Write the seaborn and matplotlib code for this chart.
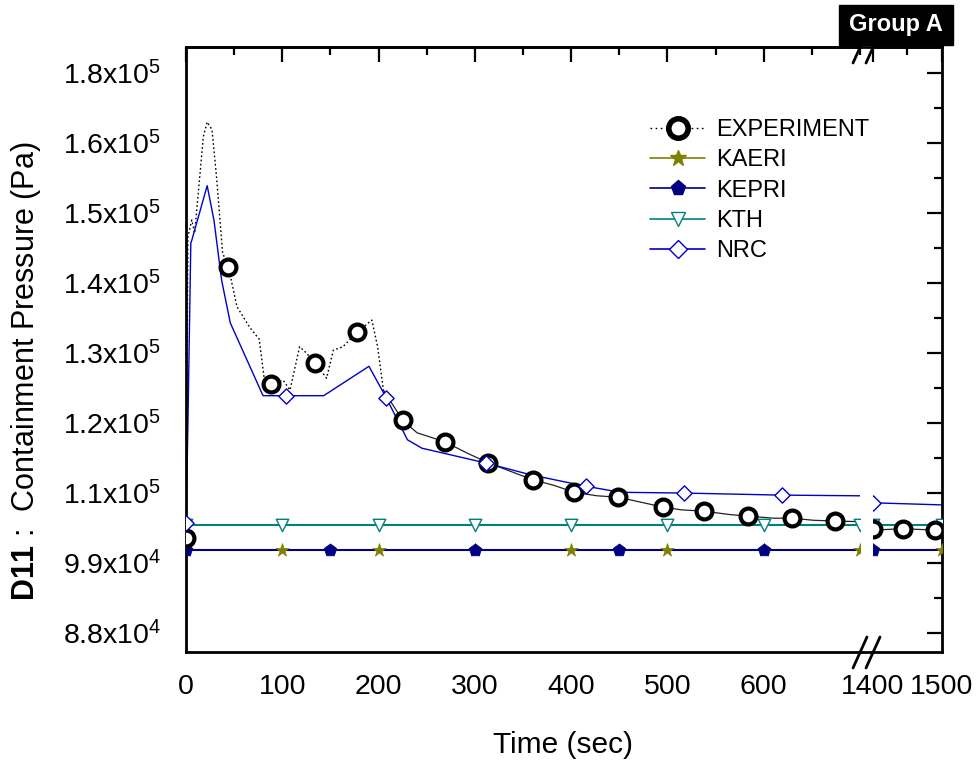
import matplotlib
matplotlib.use("Agg")
import matplotlib.pyplot as plt
import seaborn as sns
from matplotlib.lines import Line2D
from matplotlib.patches import Rectangle
from matplotlib.ticker import MultipleLocator, FixedLocator

# ---- data ----
exp_time = [0, 1, 2, 6, 9, 18, 22, 27, 32, 38, 44, 53, 66, 74, 76, 81, 88, 101, 108,
            118, 125, 134, 146, 153, 163, 178, 193, 199, 205, 225, 240, 269, 292, 314,
            360, 382, 403, 427, 449, 472, 495, 514, 538, 566, 584, 610, 629, 652, 674,
            700, 1400, 1443, 1490, 1500]
exp_pres = [103600, 125000, 146600, 149000, 147100, 160900, 163000, 161900, 154700,
            144300, 142300, 136600, 133700, 132300, 132000, 126600, 125600, 126100,
            124700, 130900, 130000, 128600, 126400, 130400, 130900, 133000, 134700,
            130900, 124700, 120400, 118600, 117300, 115700, 114300, 111900, 111100,
            110100, 109600, 109400, 108700, 108000, 107600, 107400, 106900, 106700,
            106400, 106400, 106100, 106000, 105900, 104700, 104900, 104700, 104900]
exp_mark_time = [0, 44, 88, 134, 178, 225, 269, 314, 360, 403, 449, 495, 538, 584,
                 629, 674, 1400, 1443, 1490]
exp_mark_pres = [103600, 142300, 125600, 128600, 133000, 120400, 117300, 114300,
                 111900, 110100, 109400, 108000, 107400, 106700, 106400, 106000,
                 104800, 104900, 104700]

nrc_time = [0, 2, 5, 6, 14, 22, 29, 37, 46, 80, 143, 190, 208, 230, 245, 267, 311,
            358, 414, 451, 514, 617, 700, 1400, 1500]
nrc_pres = [105700, 120000, 145700, 146100, 150000, 153900, 149000, 140400, 134300,
            123900, 123900, 128100, 123600, 117600, 116400, 115700, 114300, 112600,
            111000, 110100, 110000, 109700, 109600, 108600, 108300]
nrc_mark_time = [0, 104, 208, 312, 415, 517, 619, 1400]
nrc_mark_pres = [105700, 123900, 123600, 114300, 111000, 110000, 109700, 108600]

kth_time = [0, 1500]
kth_pres = [105500, 105500]
kth_mark_time = [0, 100, 200, 300, 400, 500, 600, 700, 1400, 1500]

kaeri_time = [0, 1500]
kaeri_pres = [101900, 101900]
kaeri_mark_time = [0, 100, 200, 300, 400, 500, 600, 700, 1400, 1500]

kepri_time = [0, 1500]
kepri_pres = [101900, 101900]
kepri_mark_time = [0, 150, 300, 450, 600, 1400]

y_tick_vals = [90000, 100000, 110000, 120000, 130000, 140000, 150000, 160000, 170000]
y_tick_labels = ["8.8x10$^4$", "9.9x10$^4$", "1.1x10$^5$", "1.2x10$^5$", "1.3x10$^5$",
                 "1.4x10$^5$", "1.5x10$^5$", "1.6x10$^5$", "1.8x10$^5$"]
x_left_ticks = [0, 100, 200, 300, 400, 500, 600]
x_right_ticks = [1400, 1500]

series_names = ["EXPERIMENT", "KAERI", "KEPRI", "KTH", "NRC"]
c_kaeri, c_kepri, c_kth, c_nrc = "#808000", "#000080", "#008080", "#0000C8"

# ---- style ----
sns.set_style("white")
plt.rcParams["font.family"] = ["Liberation Sans", "DejaVu Sans"]
plt.rcParams["mathtext.fontset"] = "custom"
plt.rcParams["mathtext.rm"] = "Liberation Sans"
plt.rcParams["mathtext.it"] = "Liberation Sans:italic"
plt.rcParams["mathtext.bf"] = "Liberation Sans:bold"
for key in ("text.color", "axes.labelcolor", "xtick.color", "ytick.color"):
    plt.rcParams[key] = "black"

W, H = 979, 769
fig = plt.figure(figsize=(W / 100, H / 100), dpi=100)
ax_l = fig.add_axes([186 / W, 117 / H, 674 / W, 605 / H])
ax_r = fig.add_axes([873 / W, 117 / H, 69 / W, 605 / H])

# the measured trace looks dotted early on and solid (noisy) later
n_solid = exp_time.index(205)


def draw(ax):
    sns.lineplot(x=kaeri_time, y=kaeri_pres, ax=ax, color=c_kaeri, lw=1.2, estimator=None)
    sns.lineplot(x=kepri_time, y=kepri_pres, ax=ax, color=c_kepri, lw=1.5, estimator=None)
    sns.lineplot(x=kth_time, y=kth_pres, ax=ax, color=c_kth, lw=1.5, estimator=None)
    sns.lineplot(x=exp_time[:n_solid + 1], y=exp_pres[:n_solid + 1], ax=ax, color="black",
                 lw=1.0, linestyle=(0, (1.2, 1.8)), estimator=None, sort=False)
    sns.lineplot(x=exp_time[n_solid:], y=exp_pres[n_solid:], ax=ax, color="#222222",
                 lw=0.9, estimator=None, sort=False)
    sns.lineplot(x=nrc_time, y=nrc_pres, ax=ax, color=c_nrc, lw=1.0, estimator=None, sort=False)

    sns.scatterplot(x=kaeri_mark_time, y=[kaeri_pres[0]] * len(kaeri_mark_time), ax=ax,
                    marker="*", s=100, color=c_kaeri, edgecolor=c_kaeri, linewidth=0.5, zorder=4)
    sns.scatterplot(x=kepri_mark_time, y=[kepri_pres[0]] * len(kepri_mark_time), ax=ax,
                    marker="p", s=90, color=c_kepri, edgecolor=c_kepri, linewidth=0.5, zorder=4)
    sns.scatterplot(x=kth_mark_time, y=[kth_pres[0]] * len(kth_mark_time), ax=ax,
                    marker="v", s=80, color="white", edgecolor=c_kth, linewidth=1.0, zorder=4)
    sns.scatterplot(x=exp_mark_time, y=exp_mark_pres, ax=ax, marker="o", s=130,
                    color="white", edgecolor="black", linewidth=3.0, zorder=5)
    sns.scatterplot(x=nrc_mark_time, y=nrc_mark_pres, ax=ax, marker="D", s=60,
                    color="white", edgecolor=c_nrc, linewidth=1.0, zorder=6)


draw(ax_l)
draw(ax_r)

ylim = (87286, 173714)
for ax in (ax_l, ax_r):
    ax.set_ylim(*ylim)
    ax.set_xlabel("")
    ax.set_ylabel("")
    for s in ax.spines.values():
        s.set_linewidth(2.0)
        s.set_color("black")

# left panel
ax_l.set_xlim(0, 700)
ax_l.spines["right"].set_visible(False)
ax_l.set_xticks(x_left_ticks)
ax_l.set_xticklabels([str(t) for t in x_left_ticks])
ax_l.xaxis.set_minor_locator(MultipleLocator(50))
ax_l.set_yticks(y_tick_vals)
ax_l.set_yticklabels(y_tick_labels)
ax_l.yaxis.set_minor_locator(MultipleLocator(5000))
ax_l.tick_params(which="both", direction="out", width=1.6, color="black",
                 top=False, right=False, labelsize=20.5, labelcolor="black")
ax_l.tick_params(which="major", length=10.8)
ax_l.tick_params(which="minor", length=5.8)
ax_l.tick_params(axis="x", pad=5)
ax_l.tick_params(axis="y", pad=7)

# right panel
ax_r.set_xlim(1400, 1500)
ax_r.spines["left"].set_visible(False)
ax_r.set_xticks(x_right_ticks)
ax_r.set_xticklabels([str(t) for t in x_right_ticks])
ax_r.xaxis.set_minor_locator(FixedLocator([1450]))
ax_r.set_yticks(y_tick_vals)
ax_r.yaxis.set_minor_locator(MultipleLocator(5000))
ax_r.tick_params(axis="x", which="both", direction="out", width=1.6, top=False,
                 labelsize=20.5, pad=5, labelcolor="black")
ax_r.tick_params(axis="y", which="both", direction="in", width=1.6, left=False,
                 right=True, labelleft=False)
ax_r.tick_params(which="major", length=10.8)
ax_r.tick_params(which="minor", length=5.8)

# inward ticks on the top edge
for ax, ticks, minor in ((ax_l, x_left_ticks, MultipleLocator(50)),
                         (ax_r, x_right_ticks, FixedLocator([1450]))):
    sec = ax.secondary_xaxis("top")
    sec.set_xticks(ticks)
    sec.xaxis.set_minor_locator(minor)
    sec.tick_params(which="both", direction="in", width=1.6, labeltop=False)
    sec.tick_params(which="major", length=10.8)
    sec.tick_params(which="minor", length=5.8)
    sec.spines["top"].set_linewidth(2.0)

# axis labels
ax_l.set_ylabel(r"$\mathbf{D11}$ :  Containment Pressure (Pa)", fontsize=22, color="black")
ax_l.yaxis.set_label_coords(-0.212, 0.4636)
ax_l.set_xlabel("Time (sec)", fontsize=21.5, color="black")
ax_l.xaxis.set_label_coords(0.5593, -0.1306)

# axis break marks
for yb in (652, 47):
    fig.add_artist(Line2D([860 / W, 873 / W], [1 - yb / H] * 2, color="black", lw=2.0))
    for x0 in (853, 866):
        fig.add_artist(Line2D([x0 / W, (x0 + 14) / W], [1 - (yb + 16) / H, 1 - (yb - 15) / H],
                              color="black", lw=2.0))

# group tag
fig.add_artist(Rectangle((839 / W, 1 - 45 / H), 114 / W, 40 / H,
                         transform=fig.transFigure, color="black", zorder=10))
fig.text(896 / W, 1 - 25 / H, "Group A", color="white", fontsize=17,
         fontweight="bold", ha="center", va="center", zorder=11)

# legend
handles = [
    Line2D([], [], color="black", lw=1.0, linestyle=(0, (1.2, 2.5)), marker="o",
           markersize=14, mfc="white", mec="black", mew=4.0),
    Line2D([], [], color=c_kaeri, lw=1.2, marker="*", markersize=12, mfc=c_kaeri, mec=c_kaeri),
    Line2D([], [], color=c_kepri, lw=1.2, marker="p", markersize=11, mfc=c_kepri, mec=c_kepri),
    Line2D([], [], color=c_kth, lw=1.2, marker="v", markersize=10, mfc="white", mec=c_kth),
    Line2D([], [], color=c_nrc, lw=1.2, marker="D", markersize=9, mfc="white", mec=c_nrc),
]
ax_l.legend(handles, series_names, loc="upper left",
            bbox_to_anchor=(650 / W, 1 - 119 / H), bbox_transform=fig.transFigure,
            frameon=False, fontsize=17, handlelength=2.33, handletextpad=0.45,
            labelspacing=0.35, borderpad=0, borderaxespad=0, labelcolor="black")

fig.savefig("out.png", dpi=100)
plt.close(fig)
